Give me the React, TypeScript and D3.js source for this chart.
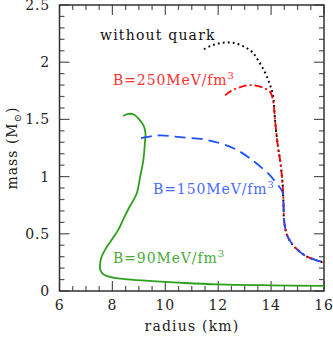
import React from "react";
import * as d3 from "d3";

// radius (km), mass (Msun)
const noQuarkR = [11.46, 11.8, 12.18, 12.56, 12.94, 13.28, 13.5, 13.77, 13.96, 14.07, 14.15, 14.26, 14.34, 14.41, 14.45, 14.47, 14.49, 14.6, 14.83, 15.1, 15.36, 15.7, 16.0];
const noQuarkM = [2.115, 2.15, 2.17, 2.17, 2.14, 2.09, 2.02, 1.91, 1.8, 1.71, 1.49, 1.26, 1.145, 1.0, 0.88, 0.75, 0.62, 0.49, 0.4, 0.34, 0.3, 0.27, 0.25];

const b250R = [12.26, 12.5, 12.82, 13.2, 13.66, 13.96, 14.07, 14.15, 14.26, 14.34, 14.41, 14.45, 14.47, 14.49, 14.6, 14.83, 15.1, 15.36, 15.7, 16.0];
const b250M = [1.71, 1.75, 1.78, 1.8, 1.78, 1.74, 1.67, 1.49, 1.26, 1.145, 1.0, 0.88, 0.75, 0.62, 0.49, 0.4, 0.34, 0.3, 0.27, 0.25];

const b150R = [9.08, 9.4, 9.8, 10.56, 11.58, 12.56, 13.2, 13.83, 13.96, 14.21, 14.42, 14.47, 14.49, 14.6, 14.83, 15.1, 15.36, 15.7, 16.0];
const b150M = [1.337, 1.35, 1.36, 1.345, 1.32, 1.25, 1.16, 1.04, 1.01, 0.94, 0.87, 0.75, 0.62, 0.49, 0.4, 0.34, 0.3, 0.27, 0.25];

const b90R = [8.41, 8.6, 8.79, 8.98, 9.17, 9.25, 9.23, 9.17, 9.05, 8.92, 8.59, 8.4, 8.21, 7.95, 7.72, 7.58, 7.53, 7.55, 7.64, 7.8, 8.21, 8.8, 9.5, 10.74, 12.0, 14.0, 16.0];
const b90M = [1.53, 1.548, 1.545, 1.51, 1.45, 1.38, 1.3, 1.145, 1.0, 0.854, 0.71, 0.62, 0.53, 0.44, 0.36, 0.29, 0.23, 0.18, 0.15, 0.13, 0.11, 0.097, 0.087, 0.07, 0.058, 0.05, 0.045];

const xMajor = [6, 8, 10, 12, 14, 16];
const yMajor = [0, 0.5, 1, 1.5, 2, 2.5];
const yMajorLabels = ["0", "0.5", "1", "1.5", "2", "2.5"];

const L = 59.5, R = 324, T = 5, B = 291;
const font = "DejaVu Serif";

export default function App() {
  const x = d3.scaleLinear().domain([6, 16]).range([L, R]);
  const y = d3.scaleLinear().domain([0, 2.5]).range([B, T]);
  const line = d3
    .line<[number, number]>()
    .x((d) => x(d[0]))
    .y((d) => y(d[1]))
    .curve(d3.curveCatmullRom.alpha(0.5));
  const pts = (rs: number[], ms: number[]) => rs.map((r, i) => [r, ms[i]] as [number, number]);

  const xMinor = d3.range(6, 16.001, 0.5);
  const yMinor = d3.range(0, 2.5001, 0.1);

  const tickColor = "#555";
  return (
    <svg width={333} height={340} style={{ position: "absolute", left: 0, top: 0 }}>
      <rect width={333} height={340} fill="white" />
      <defs>
        <clipPath id="plot">
          <rect x={L} y={T} width={R - L} height={B - T} />
        </clipPath>
      </defs>
      {/* ticks */}
      {xMinor.map((v, i) => {
        const major = Math.abs(v - Math.round(v / 2) * 2) < 1e-6;
        const len = major ? 10 : 5;
        return (
          <g key={"xt" + i} stroke={tickColor} strokeWidth={1.2}>
            <line x1={x(v)} x2={x(v)} y1={B} y2={B - len} />
            <line x1={x(v)} x2={x(v)} y1={T} y2={T + len} />
          </g>
        );
      })}
      {yMinor.map((v, i) => {
        const major = Math.abs(v * 2 - Math.round(v * 2)) < 1e-6;
        const len = major ? 10 : 5;
        return (
          <g key={"yt" + i} stroke={tickColor} strokeWidth={1.2}>
            <line x1={L} x2={L + len} y1={y(v)} y2={y(v)} />
            <line x1={R} x2={R - len} y1={y(v)} y2={y(v)} />
          </g>
        );
      })}
      <rect x={L} y={T} width={R - L} height={B - T} fill="none" stroke="#333" strokeWidth={1.5} />

      <g clipPath="url(#plot)" fill="none" strokeWidth={1.8}>
        <path d={line(pts(b90R, b90M)) || ""} stroke="#2ca01c" />
        <path d={line(pts(noQuarkR, noQuarkM)) || ""} stroke="#000" strokeDasharray="1.8,3.2" strokeWidth={2} />
        <path d={line(pts(b250R, b250M)) || ""} stroke="#ff0000" strokeDasharray="8,3,2,3" />
        <path d={line(pts(b150R, b150M)) || ""} stroke="#1f50ff" strokeDasharray="11,6" />
      </g>

      {/* tick labels */}
      {xMajor.map((v) => (
        <text key={"xl" + v} x={x(v)} y={310} textAnchor="middle" fontFamily={font} fontSize={14} letterSpacing={0.8} fill="#222">
          {v}
        </text>
      ))}
      {yMajor.map((v, i) => (
        <text key={"yl" + v} x={50} y={y(v) + 5} textAnchor="end" fontFamily={font} fontSize={14} letterSpacing={0.8} fill="#222">
          {yMajorLabels[i]}
        </text>
      ))}
      <text x={192} y={331} textAnchor="middle" fontFamily={font} fontSize={14} letterSpacing={1.2} fill="#222">
        radius (km)
      </text>
      <text transform="translate(17,148) rotate(-90)" textAnchor="middle" fontFamily={font} fontSize={14} letterSpacing={1} fill="#222">
        mass (M<tspan fontSize={10} dy={4}>⊙</tspan><tspan dy={-4}>)</tspan>
      </text>

      {/* curve labels */}
      <text x={100} y={40} fontFamily={font} fontSize={14} letterSpacing={1.2} fill="#111">
        without quark
      </text>
      <text x={113} y={85} fontFamily={font} fontSize={14} letterSpacing={0.9} fill="#ff3030">
        B=250MeV/fm<tspan fontSize={10} dy={-6}>3</tspan>
      </text>
      <text x={153} y={194} fontFamily={font} fontSize={14} letterSpacing={0.9} fill="#4a6cff">
        B=150MeV/fm<tspan fontSize={10} dy={-6}>3</tspan>
      </text>
      <text x={113} y={263} fontFamily={font} fontSize={14} letterSpacing={0.9} fill="#4aac36">
        B=90MeV/fm<tspan fontSize={10} dy={-6}>3</tspan>
      </text>
    </svg>
  );
}
